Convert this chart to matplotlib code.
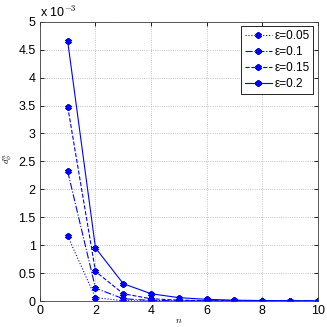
import matplotlib
matplotlib.use("Agg")
import matplotlib.pyplot as plt
import numpy as np

plt.rcParams['font.family'] = ['Liberation Sans', 'DejaVu Sans']
plt.rcParams['mathtext.fontset'] = 'cm'

n = np.arange(1, 11)
eps_labels = ['ε=0.05', 'ε=0.1', 'ε=0.15', 'ε=0.2']
d_005 = np.array([1.16, 0.06, 0.005, 0.001, 0.0005, 0.0003, 0.0002, 0.0001, 0.0001, 0.0])
d_010 = np.array([2.32, 0.23, 0.04, 0.01, 0.004, 0.002, 0.001, 0.0005, 0.0003, 0.0002])
d_015 = np.array([3.48, 0.53, 0.13, 0.04, 0.015, 0.007, 0.004, 0.002, 0.001, 0.0005])
d_020 = np.array([4.65, 0.95, 0.31, 0.13, 0.06, 0.03, 0.015, 0.008, 0.004, 0.002])
series = [d_005, d_010, d_015, d_020]
styles = [':', '-.', '--', '-']

fig = plt.figure(figsize=(3.27, 3.27), dpi=100)
ax = fig.add_axes([0.122, 0.0795, 0.850, 0.854])

for d, ls, lab in zip(series, styles, eps_labels):
    ax.plot(n, d * 1e-3, color='blue', linestyle=ls, linewidth=0.8,
            marker=(6, 2, 0), markersize=4.5, markeredgewidth=1.6, label=lab)

ax.set_xlim(0, 10)
ax.set_ylim(0, 5e-3)
ax.set_xticks(np.arange(0, 11, 2))
ax.set_yticks(np.arange(0, 5.01e-3, 0.5e-3))
ax.set_yticklabels(['0', '0.5', '1', '1.5', '2', '2.5', '3', '3.5', '4', '4.5', '5'])
ax.text(0.0, 1.005, r'x 10$^{-3}$', transform=ax.transAxes, fontsize=9,
        va='bottom', ha='left')
ax.tick_params(labelsize=9, direction='in', length=3, width=0.6, pad=3)
ax.tick_params(top=True, right=True)
ax.grid(True, linestyle=':', color='#b0b0b0', linewidth=0.6)
for s in ax.spines.values():
    s.set_linewidth(0.6)
    s.set_color('#404040')

ax.set_xlabel(r'$n$', fontsize=7)
ax.xaxis.set_label_coords(0.5, -0.05)
ax.set_ylabel(r'$d_\phi^n$', fontsize=6.5)
ax.yaxis.set_label_coords(-0.09, 0.51)

leg = ax.legend(loc='upper right', fontsize=8.5, fancybox=False, framealpha=1,
                edgecolor='black', handlelength=2.3, handletextpad=0.2,
                borderpad=0.3, labelspacing=0.35, borderaxespad=0.4)
leg.get_frame().set_linewidth(0.6)

fig.savefig('out.png', dpi=100)
